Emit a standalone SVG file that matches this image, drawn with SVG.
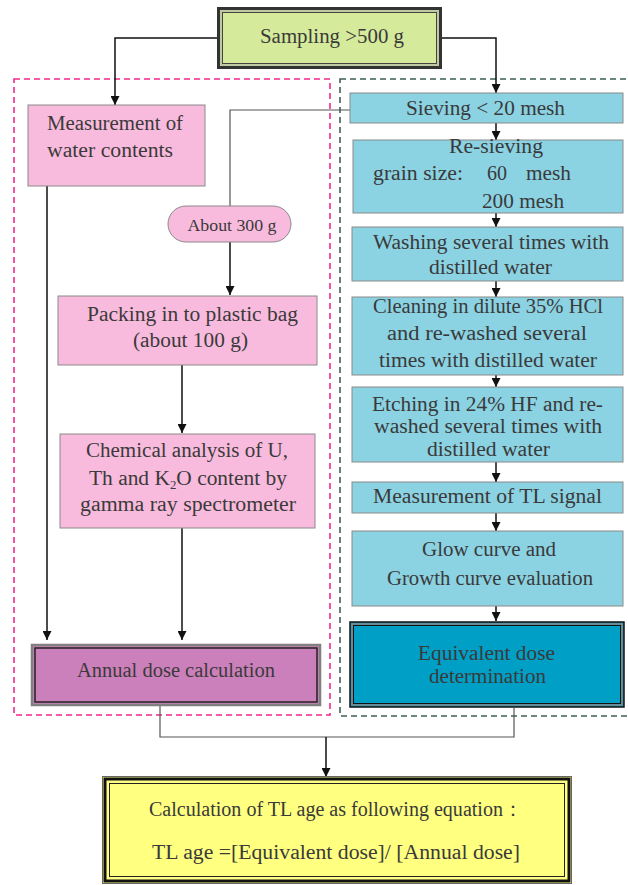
<svg xmlns="http://www.w3.org/2000/svg" width="628" height="885" viewBox="0 0 628 885">
<defs>
<marker id="ah" viewBox="0 0 10 10" refX="10" refY="5" markerWidth="9" markerHeight="9" markerUnits="userSpaceOnUse" orient="auto"><path d="M0,0 L10,5 L0,10 z" fill="#111"/></marker>
<style>
.t{font-family:"Liberation Serif","DejaVu Serif",serif;font-size:20px;fill:#3a3a3a;text-anchor:middle}
.s{text-anchor:start}
.pk{fill:#f9bbdd;stroke:#8a8a8a;stroke-width:1}
.bl{fill:#8bd2e3;stroke:#8a8a8a;stroke-width:1}
.ln{fill:none;stroke:#111;stroke-width:1.5}
.thin{fill:none;stroke:#555;stroke-width:1.2}
.dp{fill:none;stroke:#f0288c;stroke-width:1.6;stroke-dasharray:6 4}
.dg{fill:none;stroke:#3d5f5a;stroke-width:1.6;stroke-dasharray:6 4}
</style>
</defs>
<rect fill="#fff" width="628" height="885"/>
<g id="groups">
<rect class="dp" x="14" y="79" width="316" height="636"/>
<rect class="dg" x="340" y="79" width="295" height="637"/>
</g>
<g id="connectors">
<path class="ln" d="M217,38 H115 V105" marker-end="url(#ah)"/>
<path class="ln" d="M442,38 H496 V93" marker-end="url(#ah)"/>
<path class="thin" d="M350,110 H230 V206"/>
<path class="ln" d="M230,242 V295" marker-end="url(#ah)"/>
<path class="ln" d="M47,186 V640" marker-end="url(#ah)"/>
<path class="ln" d="M182,365 V433" marker-end="url(#ah)"/>
<path class="ln" d="M182,528 V640" marker-end="url(#ah)"/>
<path class="ln" d="M496,123 V140" marker-end="url(#ah)"/>
<path class="ln" d="M496,213 V227" marker-end="url(#ah)"/>
<path class="ln" d="M496,281 V297" marker-end="url(#ah)"/>
<path class="ln" d="M496,375 V387" marker-end="url(#ah)"/>
<path class="ln" d="M496,462 V482" marker-end="url(#ah)"/>
<path class="ln" d="M496,513 V531" marker-end="url(#ah)"/>
<path class="ln" d="M496,606 V621" marker-end="url(#ah)"/>
<path class="thin" d="M160,706 V737 H514 V708"/>
<path class="ln" d="M326,737 V777" marker-end="url(#ah)"/>
</g>
<g id="sampling">
<rect x="218.5" y="8.5" width="222" height="59" fill="#d5ea9b" stroke="#333" stroke-width="3"/>
<rect x="221" y="11" width="217" height="54" fill="none" stroke="#aaa" stroke-width="1"/>
<rect x="222.5" y="12.5" width="214" height="51" fill="none" stroke="#444" stroke-width="1"/>
<text class="t" x="332" y="43" textLength="144" lengthAdjust="spacingAndGlyphs">Sampling &gt;500 g</text>
</g>
<g id="water">
<rect class="pk" x="28" y="105" width="177" height="81"/>
<text class="t s" x="47" y="130" textLength="136" lengthAdjust="spacingAndGlyphs">Measurement of</text>
<text class="t s" x="47" y="157" textLength="126" lengthAdjust="spacingAndGlyphs">water contents</text>
</g>
<g id="about300">
<rect class="pk" x="168" y="206" width="123" height="36" rx="18"/>
<text class="t" x="232" y="231" style="font-size:17px" textLength="89" lengthAdjust="spacingAndGlyphs">About 300 g</text>
</g>
<g id="packing">
<rect class="pk" x="58" y="296" width="259" height="69"/>
<text class="t" x="192.5" y="321" textLength="211" lengthAdjust="spacingAndGlyphs">Packing in to plastic bag</text>
<text class="t" x="190.5" y="347" textLength="115" lengthAdjust="spacingAndGlyphs">(about 100 g)</text>
</g>
<g id="chemical">
<rect class="pk" x="60" y="434" width="255" height="94"/>
<text class="t" x="187" y="457" textLength="202" lengthAdjust="spacingAndGlyphs">Chemical analysis of U,</text>
<text class="t" x="188" y="485" textLength="198" lengthAdjust="spacingAndGlyphs">Th and K<tspan dy="4" style="font-size:12px">2</tspan><tspan dy="-4">O content by</tspan></text>
<text class="t" x="188" y="511" textLength="216" lengthAdjust="spacingAndGlyphs">gamma ray spectrometer</text>
</g>
<g id="annual">
<rect x="32" y="645" width="288" height="60" fill="#cc80bb" stroke="#808080" stroke-width="2.5"/>
<rect x="35" y="648" width="282" height="54" fill="none" stroke="#222" stroke-width="1.5"/>
<text class="t" x="176" y="677" textLength="198" lengthAdjust="spacingAndGlyphs">Annual dose calculation</text>
</g>
<g id="sieving">
<rect class="bl" x="350" y="93" width="273" height="30"/>
<text class="t" x="485.5" y="115" textLength="159" lengthAdjust="spacingAndGlyphs">Sieving &lt; 20 mesh</text>
</g>
<g id="resieving">
<rect class="bl" x="353" y="140" width="270" height="73"/>
<text class="t" x="496" y="153" textLength="94" lengthAdjust="spacingAndGlyphs">Re-sieving</text>
<text class="t s" x="373" y="180" textLength="90" lengthAdjust="spacingAndGlyphs">grain size:</text>
<text class="t s" x="487" y="180" textLength="20" lengthAdjust="spacingAndGlyphs">60</text>
<text class="t s" x="526" y="180" textLength="45" lengthAdjust="spacingAndGlyphs">mesh</text>
<text class="t s" x="482" y="208" textLength="82" lengthAdjust="spacingAndGlyphs">200 mesh</text>
</g>
<g id="washing">
<rect class="bl" x="352" y="227" width="271" height="54"/>
<text class="t" x="491" y="249" textLength="236" lengthAdjust="spacingAndGlyphs">Washing several times with</text>
<text class="t" x="490.5" y="274" textLength="123" lengthAdjust="spacingAndGlyphs">distilled water</text>
</g>
<g id="cleaning">
<rect class="bl" x="352" y="297" width="271" height="78"/>
<text class="t" x="488" y="313" textLength="230" lengthAdjust="spacingAndGlyphs">Cleaning in dilute 35% HCl</text>
<text class="t" x="487" y="340" textLength="200" lengthAdjust="spacingAndGlyphs">and re-washed several</text>
<text class="t" x="488" y="367" textLength="218" lengthAdjust="spacingAndGlyphs">times with distilled water</text>
</g>
<g id="etching">
<rect class="bl" x="352" y="387" width="271" height="75"/>
<text class="t" x="487.5" y="411" textLength="231" lengthAdjust="spacingAndGlyphs">Etching in 24% HF and re-</text>
<text class="t" x="488" y="433" textLength="228" lengthAdjust="spacingAndGlyphs">washed several times with</text>
<text class="t" x="488.5" y="456" textLength="123" lengthAdjust="spacingAndGlyphs">distilled water</text>
</g>
<g id="tlsignal">
<rect class="bl" x="352" y="482" width="271" height="31"/>
<text class="t" x="487.5" y="503" textLength="229" lengthAdjust="spacingAndGlyphs">Measurement of TL signal</text>
</g>
<g id="glow">
<rect class="bl" x="352" y="531" width="271" height="75"/>
<text class="t" x="489" y="556" textLength="134" lengthAdjust="spacingAndGlyphs">Glow curve and</text>
<text class="t" x="490" y="585" textLength="206" lengthAdjust="spacingAndGlyphs">Growth curve evaluation</text>
</g>
<g id="equivalent">
<rect x="350" y="622" width="274" height="85" fill="#009fc6" stroke="#111" stroke-width="1.5"/>
<rect x="352" y="624" width="270" height="81" fill="none" stroke="#888" stroke-width="1.5"/>
<rect x="353.5" y="625.5" width="267" height="78" fill="none" stroke="#111" stroke-width="1"/>
<text class="t" x="486.5" y="660" textLength="137" lengthAdjust="spacingAndGlyphs">Equivalent dose</text>
<text class="t" x="487.5" y="683" textLength="117" lengthAdjust="spacingAndGlyphs">determination</text>
</g>
<g id="tlage">
<rect x="102.5" y="776.5" width="469" height="107" fill="#ffff80" stroke="#666" stroke-width="1"/>
<rect x="105" y="779" width="464" height="102" fill="none" stroke="#111" stroke-width="3"/>
<rect x="109.5" y="783.5" width="455" height="93" fill="none" stroke="#222" stroke-width="1"/>
<text class="t" x="336" y="816" textLength="374" lengthAdjust="spacingAndGlyphs">Calculation of TL age as following equation：</text>
<text class="t" x="336" y="859" textLength="368" lengthAdjust="spacingAndGlyphs">TL age =[Equivalent dose]/ [Annual dose]</text>
</g>
</svg>
